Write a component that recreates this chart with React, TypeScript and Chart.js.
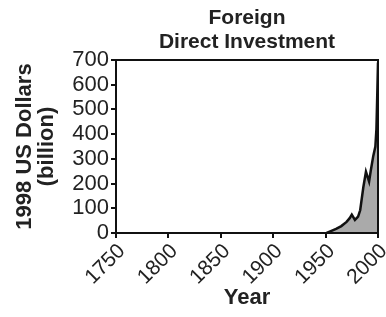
import React, { useEffect, useRef } from "react";
import { Chart, registerables } from "chart.js";

Chart.register(...registerables);

const titleLines = ["Foreign", "Direct Investment"];
const years = [1951, 1955, 1960, 1965, 1970, 1973, 1975, 1978, 1981, 1983, 1986, 1988.5, 1990, 1991.5, 1993, 1995.5, 1997.5, 1998.5, 1999.3, 2000];
const values = [0, 8, 17, 28, 45, 60, 74, 53, 66, 92, 185, 248, 228, 208, 250, 312, 350, 420, 560, 690];
const xTicks = [1750, 1800, 1850, 1900, 1950, 2000];
const yTitle = ["1998 US Dollars", "(billion)"];
const xTitle = "Year";

const FONT = "'Liberation Sans', Arial, Helvetica, sans-serif";

const framePlugin = {
  id: "frameAndTitle",
  afterDraw(chart: any) {
    const { ctx, chartArea } = chart;
    ctx.save();
    ctx.strokeStyle = "#111";
    ctx.lineWidth = 2;
    ctx.strokeRect(chartArea.left, chartArea.top, chartArea.right - chartArea.left, chartArea.bottom - chartArea.top);
    ctx.fillStyle = "#222";
    ctx.font = `bold 21px ${FONT}`;
    ctx.textAlign = "center";
    ctx.textBaseline = "middle";
    const cx = (chartArea.left + chartArea.right) / 2;
    ctx.fillText(titleLines[0], cx, 18);
    ctx.fillText(titleLines[1], cx, 42);
    ctx.restore();
  },
};

export default function App() {
  const ref = useRef<HTMLCanvasElement>(null);
  useEffect(() => {
    const chart = new Chart(ref.current!, {
      type: "line",
      data: {
        datasets: [
          {
            data: years.map((y, i) => ({ x: y, y: values[i] })),
            borderColor: "#111",
            borderWidth: 2.5,
            backgroundColor: "#aaaaaa",
            fill: "origin",
            pointRadius: 0,
            tension: 0,
          },
        ],
      },
      options: {
        animation: false,
        responsive: false,
        layout: { padding: { top: 60, right: 8, left: 0, bottom: 0 } },
        plugins: { legend: { display: false }, tooltip: { enabled: false } },
        scales: {
          x: {
            type: "linear",
            min: 1750,
            max: 2000,
            afterBuildTicks: (scale: any) => {
              scale.ticks = xTicks.map((v) => ({ value: v }));
            },
            afterFit: (scale: any) => {
              scale.height = 84;
              scale.paddingLeft = 0;
              scale.paddingRight = 0;
            },
            ticks: {
              autoSkip: false,
              maxRotation: 45,
              minRotation: 45,
              color: "#222",
              font: { size: 21, family: FONT },
              padding: 1,
              labelOffset: 6,
              callback: (v: any) => String(v),
            },
            grid: { drawOnChartArea: false, drawTicks: true, tickLength: 5, color: "#111", lineWidth: 2 },
            border: { color: "#111", width: 2 },
            title: {
              display: true,
              text: xTitle,
              color: "#222",
              font: { size: 22, weight: "bold", family: FONT },
              padding: { top: 0, bottom: 6 },
            },
          },
          y: {
            min: 0,
            max: 700,
            afterFit: (scale: any) => {
              scale.width = 116;
              scale.paddingTop = 0;
              scale.paddingBottom = 0;
            },
            ticks: {
              autoSkip: false,
              stepSize: 100,
              color: "#222",
              font: { size: 22, family: FONT },
              padding: 2,
            },
            grid: { drawOnChartArea: false, drawTicks: true, tickLength: 5, color: "#111", lineWidth: 2 },
            border: { color: "#111", width: 2 },
            title: {
              display: true,
              text: yTitle,
              color: "#222",
              font: { size: 22, weight: "bold", family: FONT, lineHeight: 1.0 },
              padding: { top: 14, bottom: 0 },
            },
          },
        },
      },
      plugins: [framePlugin],
    });
    return () => chart.destroy();
  }, []);
  return (
    <div style={{ position: "fixed", left: 0, top: 0, width: 386, height: 317, background: "#fff" }}>
      <canvas ref={ref} width={386} height={317} style={{ display: "block" }} />
    </div>
  );
}
